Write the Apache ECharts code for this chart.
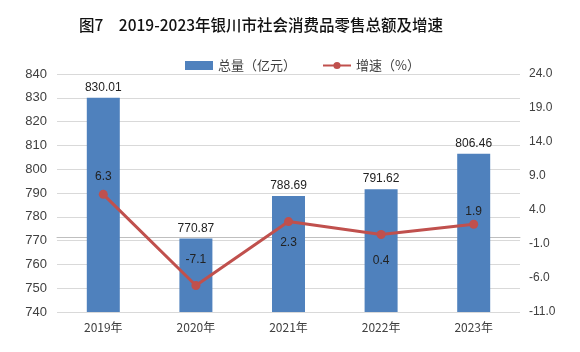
<!DOCTYPE html>
<html>
<head>
<meta charset="utf-8">
<script src="https://cdn.jsdelivr.net/npm/echarts@6/dist/echarts.min.js"></script>
<style>
html,body{margin:0;padding:0;background:#fff;}
#chart{width:580px;height:352px;}
</style>
</head>
<body>
<div id="chart"></div>
<script>
var years = ['2019年', '2020年', '2021年', '2022年', '2023年'];
var totals = [830.01, 770.87, 788.69, 791.62, 806.46];
var growth = [6.3, -7.1, 2.3, 0.4, 1.9];
var rightTicks = [-11, -6, -1, 4, 9, 14, 19, 24];

// label placement for the growth points (style only)
var growthLabelPos = ['top', 'top', 'bottom', 'bottom', 'top'];
var growthLabelGap = [7, 15, 11, 16, 2];

var chart = echarts.init(document.getElementById('chart'));
var lineData = growth.map(function (v, i) {
  return { value: v, label: { position: growthLabelPos[i], distance: growthLabelGap[i] } };
});

var option = {
  animation: false,
  title: {
    text: '图7　2019-2023年银川市社会消费品零售总额及增速',
    left: 74, top: 12,
    textStyle: { fontFamily: '"Noto Sans CJK SC",sans-serif', fontSize: 15.5, fontWeight: 500, color: '#111' }
  },
  legend: {
    top: 54, left: 180,
    itemGap: 26,
    itemWidth: 28, itemHeight: 9,
    textStyle: { fontFamily: '"Noto Sans CJK SC",sans-serif', fontSize: 13, color: '#404040' },
    data: [
      { name: '总量（亿元）', icon: 'rect' },
      { name: '增速（%）' }
    ]
  },
  grid: { left: 57, right: 60, top: 74, bottom: 40 },
  xAxis: {
    type: 'category',
    data: years,
    axisLine: { lineStyle: { color: '#bfbfbf' } },
    axisTick: { show: false },
    axisLabel: { fontFamily: '"Noto Sans CJK SC",sans-serif', fontSize: 12, color: '#404040', margin: 9 }
  },
  yAxis: [
    {
      type: 'value', min: 740, max: 840, interval: 10,
      axisLine: { show: false },
      axisTick: { show: false },
      splitLine: { lineStyle: { color: '#d9d9d9' } },
      axisLabel: { fontFamily: '"Liberation Sans",sans-serif', fontSize: 13, color: '#404040', margin: 10 }
    },
    {
      type: 'value', min: -11, max: 24,
      axisLine: { show: false },
      axisTick: { show: false },
      splitLine: { show: false },
      axisLabel: {
        customValues: rightTicks,
        fontFamily: '"Liberation Sans",sans-serif', fontSize: 12, color: '#404040', margin: 9,
        formatter: function (v) { return v.toFixed(1); }
      }
    }
  ],
  series: [
    {
      name: '总量（亿元）',
      type: 'bar',
      barWidth: 33,
      data: totals,
      itemStyle: { color: '#4f81bd' },
      label: {
        show: true, position: 'top', distance: 4,
        fontFamily: '"Liberation Sans",sans-serif', fontSize: 12, color: '#222',
        formatter: function (p) { return p.value.toFixed(2); }
      }
    },
    {
      name: '增速（%）',
      type: 'line',
      yAxisIndex: 1,
      data: lineData,
      symbol: 'circle',
      symbolSize: 9,
      lineStyle: { color: '#c0504d', width: 3 },
      itemStyle: { color: '#c0504d' },
      label: {
        show: true,
        fontFamily: '"Liberation Sans",sans-serif', fontSize: 12, color: '#222',
        formatter: function (p) { return p.value.toFixed(1); }
      }
    }
  ]
};
chart.setOption(option);
</script>
</body>
</html>
